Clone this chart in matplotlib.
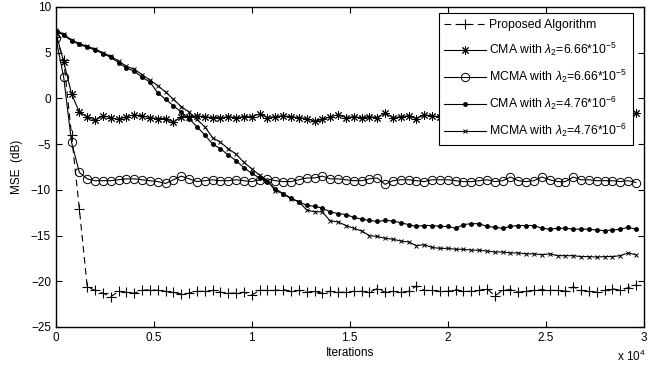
import matplotlib
matplotlib.use('Agg')
import matplotlib.pyplot as plt
import numpy as np

plt.rcParams['font.family'] = ['Liberation Sans', 'DejaVu Sans']
plt.rcParams['mathtext.fontset'] = 'custom'
plt.rcParams['mathtext.rm'] = 'Liberation Sans'
plt.rcParams['mathtext.it'] = 'Liberation Sans:italic'

# iterations sampled every 400
iterations = np.arange(75) * 400

proposed = [6.7, 4.2, -4.0, -12.1, -20.6, -21.0, -21.3, -21.7, -21.1, -21.2,
            -21.3, -21.0, -20.9, -21.0, -21.1, -21.2, -21.4, -21.3, -21.1, -21.1,
            -21.0, -21.2, -21.3, -21.3, -21.2, -21.5, -21.0, -21.0, -21.0, -20.9,
            -21.1, -21.0, -21.2, -21.1, -21.3, -21.1, -21.2, -21.2, -21.1, -21.1,
            -21.2, -20.8, -21.2, -21.1, -21.2, -21.1, -20.5, -21.0, -21.0, -21.1,
            -21.1, -20.9, -21.1, -21.1, -21.0, -20.8, -21.6, -21.0, -20.9, -21.2,
            -21.1, -21.0, -20.9, -21.0, -21.0, -21.1, -20.6, -21.0, -21.1, -21.2,
            -21.0, -20.8, -21.0, -20.7, -20.4]

cma_a = [7.2, 4.0, 0.5, -1.5, -2.0, -2.4, -1.9, -2.1, -2.3, -2.0,
         -1.8, -1.9, -2.1, -2.2, -2.2, -2.6, -2.0, -2.0, -1.9, -2.0,
         -2.1, -2.1, -2.0, -2.1, -2.0, -2.0, -1.7, -2.1, -2.0, -1.9,
         -2.0, -2.1, -2.2, -2.5, -2.3, -2.0, -1.8, -2.1, -2.0, -2.1,
         -2.0, -2.1, -1.6, -2.1, -2.0, -1.9, -2.2, -1.8, -1.9, -2.0,
         -2.0, -2.1, -1.9, -2.0, -2.1, -2.0, -1.9, -2.0, -2.2, -2.0,
         -1.9, -2.0, -2.1, -2.0, -1.8, -2.0, -2.1, -2.0, -1.9, -2.0,
         -2.1, -2.0, -1.9, -2.0, -1.6]

mcma_a = [6.6, 2.3, -4.8, -8.1, -8.8, -9.0, -9.0, -9.0, -8.9, -8.8,
          -8.8, -8.9, -9.0, -9.1, -9.3, -8.9, -8.5, -8.8, -9.1, -9.0,
          -8.9, -9.0, -9.0, -8.9, -9.0, -9.1, -8.9, -8.8, -9.0, -9.1,
          -9.1, -8.9, -8.7, -8.7, -8.5, -8.8, -8.8, -8.9, -9.0, -9.0,
          -8.8, -8.7, -9.4, -9.0, -8.9, -8.9, -9.0, -9.1, -8.9, -8.9,
          -8.9, -9.0, -9.1, -9.1, -9.0, -8.9, -9.1, -9.0, -8.6, -9.0,
          -9.1, -9.0, -8.6, -8.9, -9.1, -9.1, -8.6, -8.9, -8.9, -9.0,
          -9.0, -9.0, -9.1, -9.0, -9.2]

cma_b = [7.4, 6.9, 6.3, 5.9, 5.6, 5.3, 4.9, 4.5, 3.9, 3.3,
         3.0, 2.3, 1.8, 0.6, -0.1, -0.8, -1.5, -2.2, -3.1, -4.0,
         -5.0, -5.5, -6.2, -6.8, -7.6, -8.2, -8.7, -9.1, -9.9, -10.4,
         -10.9, -11.3, -11.7, -11.8, -12.0, -12.4, -12.6, -12.7, -13.0, -13.2,
         -13.35, -13.45, -13.35, -13.4, -13.6, -13.8, -14.0, -13.9, -13.9, -14.0,
         -14.0, -14.2, -13.8, -13.7, -13.7, -14.0, -14.1, -14.2, -14.0, -13.9,
         -13.9, -13.9, -14.2, -14.3, -14.2, -14.2, -14.3, -14.3, -14.3, -14.4,
         -14.45, -14.4, -14.3, -14.1, -14.3]

mcma_b = [7.5, 7.0, 6.4, 6.0, 5.7, 5.4, 5.0, 4.6, 4.1, 3.5,
          3.2, 2.6, 2.0, 1.4, 0.7, -0.1, -0.9, -1.5, -2.3, -3.1,
          -4.3, -4.8, -5.5, -6.1, -7.0, -7.7, -8.4, -9.0, -10.1, -10.4,
          -11.0, -11.3, -12.2, -12.4, -12.4, -13.4, -13.5, -13.9, -14.2, -14.5,
          -15.0, -15.1, -15.3, -15.4, -15.6, -15.7, -16.1, -16.0, -16.3, -16.4,
          -16.4, -16.5, -16.5, -16.6, -16.6, -16.7, -16.8, -16.8, -16.9, -16.9,
          -17.0, -17.0, -17.1, -17.0, -17.2, -17.2, -17.2, -17.3, -17.3, -17.35,
          -17.3, -17.3, -17.2, -16.9, -17.1]

labels = ['Proposed Algorithm',
          r'CMA with $\lambda_2$=6.66*10$^{-5}$',
          r'MCMA with $\lambda_2$=6.66*10$^{-5}$',
          r'CMA with $\lambda_2$=4.76*10$^{-6}$',
          r'MCMA with $\lambda_2$=4.76*10$^{-6}$']

xticks = [0, 5000, 10000, 15000, 20000, 25000, 30000]
xtick_labels = ['0', '0.5', '1', '1.5', '2', '2.5', '3']
yticks = [-25, -20, -15, -10, -5, 0, 5, 10]

fig = plt.figure(figsize=(6.65, 3.67), dpi=100)
ax = fig.add_axes([0.084, 0.109, 0.884, 0.872])

lw = 0.8
ax.plot(iterations, proposed, 'k--', lw=lw, dashes=(6, 4), marker='+', ms=7, mew=0.8, label=labels[0])
ax.plot(iterations, cma_a, 'k-', lw=lw, marker=(8, 2, 0), ms=6, mew=0.7, label=labels[1])
ax.plot(iterations, mcma_a, 'k-', lw=lw, marker='o', ms=6, mew=0.7, mfc='none', label=labels[2])
ax.plot(iterations, cma_b, 'k-', lw=lw, marker='.', ms=5, label=labels[3])
ax.plot(iterations, mcma_b, 'k-', lw=lw, marker='x', ms=3.5, mew=0.7, label=labels[4])

ax.set_xlim(0, 30000)
ax.set_ylim(-25, 10)
ax.set_xticks(xticks)
ax.set_xticklabels(xtick_labels)
ax.set_yticks(yticks)
ax.tick_params(direction='in', top=True, right=True, length=4, width=0.8, labelsize=8.5)
for s in ax.spines.values():
    s.set_linewidth(1.0)

ax.set_xlabel('Iterations', fontsize=8.5, labelpad=2)
ax.set_ylabel('MSE  (dB)', fontsize=8.5, labelpad=6)
fig.text(0.928, 0.008, r'x 10$^4$', fontsize=8.5, ha='left', va='bottom')

leg = ax.legend(loc='upper right', bbox_to_anchor=(0.981, 0.980), fontsize=8.8,
                fancybox=False, edgecolor='black', framealpha=1, borderaxespad=0,
                handlelength=3.4, labelspacing=0.8, handletextpad=0.25, borderpad=0.45)
leg.get_frame().set_linewidth(0.8)

fig.savefig('out.png', dpi=100)
